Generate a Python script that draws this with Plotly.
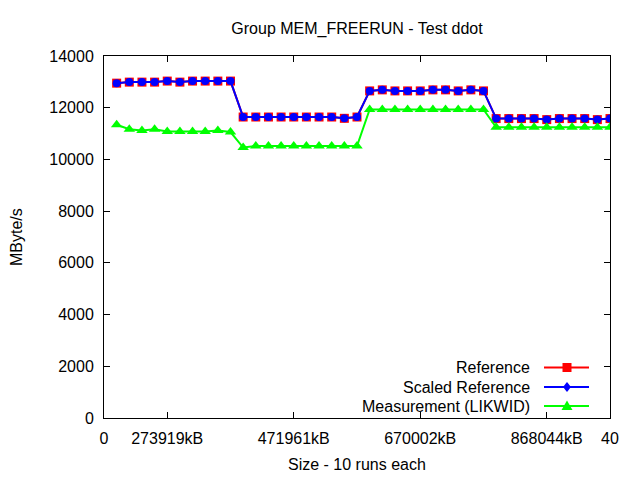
import plotly.graph_objects as go

runs = list(range(1, 41))
reference = [12950, 12990, 12990, 12990, 13030, 12990, 13030, 13030, 13030, 13030,
             11640, 11640, 11640, 11640, 11640, 11640, 11640, 11640, 11590, 11640,
             12650, 12690, 12650, 12650, 12650, 12690, 12690, 12650, 12690, 12650,
             11580, 11580, 11580, 11580, 11540, 11580, 11580, 11580, 11540, 11580]
scaled_reference = list(reference)
measurement = [11340, 11170, 11120, 11170, 11080, 11080, 11080, 11080, 11120, 11060,
               10460, 10520, 10520, 10520, 10520, 10520, 10520, 10520, 10520, 10520,
               11930, 11930, 11930, 11930, 11930, 11930, 11930, 11930, 11930, 11930,
               11240, 11240, 11240, 11240, 11240, 11240, 11240, 11240, 11240, 11240]
x_tickvals = [0, 5, 15, 25, 35, 40]
x_ticktext = ["0", "273919kB", "471961kB", "670002kB", "868044kB", "40"]
y_tickvals = [0, 2000, 4000, 6000, 8000, 10000, 12000, 14000]
y_ticktext = ["0", "2000", "4000", "6000", "8000", "10000", "12000", "14000"]
series_names = ["Reference", "Scaled Reference", "Measurement (LIKWID)"]
series_colors = ["#ff0000", "#0000ff", "#00ff00"]
series_symbols = ["square", "circle", "triangle-up"]
series_sizes = [9, 8, 10]

FONT = "Liberation Sans, Arial, sans-serif"
W, H = 640, 480
L, R, T, B = 104, 30, 56, 62
PW, PH = W - L - R, H - T - B


def px(xx):
    return (xx - L) / PW


def pyy(v):
    return 1 - (v - T) / PH


fig = go.Figure()
for name, vals, col, sym, sz in zip(series_names, [reference, scaled_reference, measurement],
                                    series_colors, series_symbols, series_sizes):
    fig.add_trace(go.Scatter(x=runs, y=vals, mode="lines+markers", name=name,
                             line=dict(color=col, width=2),
                             marker=dict(symbol=sym, size=sz, color=col, line=dict(width=0)),
                             showlegend=False))

# manual gnuplot-style legend (text on the left, sample on the right)
rows_y = [367.5, 387, 406]
text_right = 532
line_x0, line_x1 = 544, 589
shapes = []
annotations = []
for name, col, sym, yy in zip(series_names, series_colors, series_symbols, rows_y):
    annotations.append(dict(text=name, xref="paper", yref="paper",
                            x=px(text_right), y=pyy(yy),
                            xanchor="right", yanchor="middle", showarrow=False,
                            font=dict(family=FONT, size=16, color="#000000")))
    shapes.append(dict(type="line", xref="paper", yref="paper", x0=px(line_x0), x1=px(line_x1),
                       y0=pyy(yy), y1=pyy(yy), line=dict(color=col, width=2)))
    cx = (line_x0 + line_x1) / 2 + 0.5
    if sym == "square":
        shapes.append(dict(type="rect", xref="paper", yref="paper",
                           x0=px(cx - 4.5), x1=px(cx + 4.5),
                           y0=pyy(yy + 4.5), y1=pyy(yy - 4.5),
                           fillcolor=col, line=dict(width=0)))
    elif sym == "circle":
        path = (f"M {px(cx)},{pyy(yy-5)} L {px(cx+4)},{pyy(yy)} "
                f"L {px(cx)},{pyy(yy+5)} L {px(cx-4)},{pyy(yy)} Z")
        shapes.append(dict(type="path", xref="paper", yref="paper", path=path,
                           fillcolor=col, line=dict(width=0)))
    else:
        path = (f"M {px(cx)},{pyy(yy-5.5)} L {px(cx+5.5)},{pyy(yy+4)} "
                f"L {px(cx-5.5)},{pyy(yy+4)} Z")
        shapes.append(dict(type="path", xref="paper", yref="paper", path=path,
                           fillcolor=col, line=dict(width=0)))

# axis titles as annotations
annotations.append(dict(text="MByte/s", xref="paper", yref="paper",
                        x=px(16), y=0.5, textangle=-90,
                        xanchor="center", yanchor="middle", showarrow=False,
                        font=dict(family=FONT, size=16, color="#000000")))
annotations.append(dict(text="Size - 10 runs each", xref="paper", yref="paper",
                        x=0.5, y=pyy(464),
                        xanchor="center", yanchor="middle", showarrow=False,
                        font=dict(family=FONT, size=16, color="#000000")))

fig.update_layout(
    width=W, height=H,
    margin=dict(l=L, r=R, t=T, b=B),
    paper_bgcolor="white", plot_bgcolor="white",
    font=dict(family=FONT, size=16, color="#000000"),
    title=dict(text="Group MEM_FREERUN - Test ddot", x=0.5, xref="paper",
               y=1 - 28 / H, yref="container", xanchor="center", yanchor="middle",
               font=dict(family=FONT, size=16, color="#000000")),
    shapes=shapes, annotations=annotations,
    showlegend=False,
)
fig.update_xaxes(range=[0, 40], tickvals=x_tickvals, ticktext=x_ticktext,
                 ticks="inside", ticklen=6, tickwidth=1, tickcolor="#000000",
                 showline=True, linecolor="#000000", linewidth=1, mirror="ticks",
                 showgrid=False, zeroline=False, ticklabelstandoff=6,
                 tickfont=dict(family=FONT, size=16, color="#000000"))
fig.update_yaxes(range=[0, 14000], tickvals=y_tickvals, ticktext=y_ticktext,
                 ticks="inside", ticklen=6, tickwidth=1, tickcolor="#000000",
                 showline=True, linecolor="#000000", linewidth=1, mirror="ticks",
                 showgrid=False, zeroline=False, ticklabelstandoff=6,
                 tickfont=dict(family=FONT, size=16, color="#000000"))

fig.write_html("out.html")
